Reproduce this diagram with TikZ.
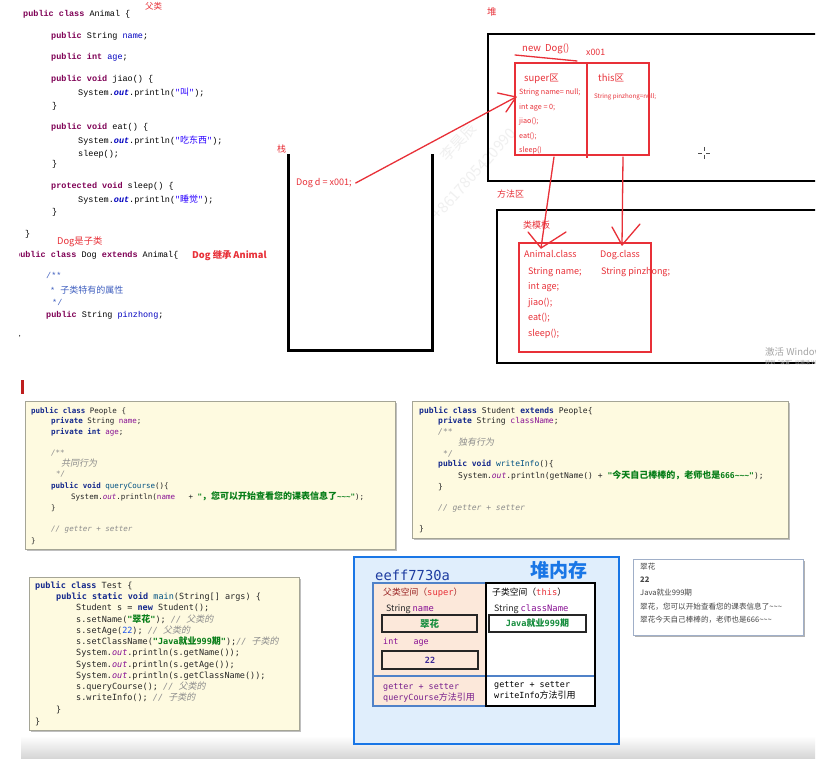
\documentclass[tikz,border=0pt]{standalone}
\usepackage{fontspec}
\setmainfont{Noto Sans CJK SC}
\newfontfamily\cjk{Noto Sans CJK SC}[AutoFakeSlant=0.2]
\newfontfamily\emono{Liberation Mono}
\newfontfamily\cmono{DejaVu Sans Mono}
\definecolor{hred}{RGB}{232,48,56}
\definecolor{ekw}{RGB}{127,0,85}
\definecolor{efd}{RGB}{0,0,192}
\definecolor{estr}{RGB}{42,0,255}
\definecolor{ecm}{RGB}{63,95,191}
\definecolor{ckw}{RGB}{20,40,140}
\definecolor{cfd}{RGB}{135,16,148}
\definecolor{ccm}{RGB}{140,140,140}
\definecolor{cst}{RGB}{6,125,23}
\definecolor{cnumc}{RGB}{23,80,235}
\definecolor{cmtc}{RGB}{0,80,130}
\definecolor{codebg}{RGB}{254,250,224}
\definecolor{codeborder}{RGB}{165,165,150}
\definecolor{hbg}{RGB}{224,238,252}
\definecolor{hblue}{RGB}{25,118,230}
\definecolor{hmid}{RGB}{80,130,200}
\definecolor{peach}{RGB}{252,232,218}
\definecolor{dblue}{RGB}{30,60,160}
\definecolor{gtext}{RGB}{70,70,70}
\definecolor{maroon}{RGB}{150,30,30}
\definecolor{wm}{RGB}{240,240,240}
\definecolor{stripgrey}{RGB}{214,214,214}
\definecolor{gmem}{RGB}{20,140,60}
\definecolor{pmem}{RGB}{120,30,140}
\definecolor{nmem}{RGB}{60,40,150}
\definecolor{barred}{RGB}{190,30,30}
\newcommand\zh[1]{{\cjk\fontsize{9}{10}\selectfont #1}}
\newcommand\ekw[1]{\textcolor{ekw}{\bfseries #1}}
\newcommand\efd[1]{\textcolor{efd}{#1}}
\newcommand\eout{\textcolor{efd}{\bfseries\itshape out}}
\newcommand\estr[1]{\textcolor{estr}{#1}}
\newcommand\ecm[1]{\textcolor{ecm}{#1}}
\newcommand\ckw[1]{\textcolor{ckw}{\bfseries #1}}
\newcommand\cfd[1]{\textcolor{cfd}{#1}}
\newcommand\ccm[1]{\textcolor{ccm}{\itshape #1}}
\newcommand\cst[1]{\textcolor{cst}{\bfseries #1}}
\newcommand\cnumx[1]{\textcolor{cnumc}{#1}}
\newcommand\cmt[1]{\textcolor{cmtc}{#1}}
\newcommand\cout{\textcolor{cfd}{\itshape out}}
\newcommand\tld{\textasciitilde}
\tikzset{
  tc/.style={anchor=west,inner sep=0pt,font=\emono\fontsize{8.5}{10}\selectfont,text height=5.5pt,text depth=1.5pt},
  bc/.style={anchor=west,inner sep=0pt,font=\cmono\fontsize{#1}{10}\selectfont,text=black!85,text height=6pt,text depth=1.5pt},
  hand/.style={anchor=west,inner sep=0pt,text=hred,font=\cjk\fontsize{9}{10}\selectfont,text height=6.5pt,text depth=1.5pt},
  tiny/.style={hand,font=\cjk\fontsize{7.2}{8}\selectfont,text height=5pt,text depth=1pt},
  redline/.style={draw=hred,line width=1.3pt,line cap=round},
  heapline/.style={draw=black,line width=2pt},
  codebox/.style={fill=codebg,draw=codeborder,line width=0.8pt},
  mem/.style={anchor=west,inner sep=0pt,font=\cjk\fontsize{8.8}{10}\selectfont,text height=6pt,text depth=1.5pt},
  memmono/.style={anchor=west,inner sep=0pt,font=\cmono\fontsize{8.4}{10}\selectfont,text height=6pt,text depth=1.5pt},
  cons/.style={anchor=west,inner sep=0pt,text=gtext,font=\cjk\fontsize{7.6}{9}\selectfont,text height=5.5pt,text depth=1.5pt},
}
\begin{document}
\begin{tikzpicture}[x=1pt,y=-1pt]
\useasboundingbox (0,0) rectangle (832,767);
\fill[white] (0,0) rectangle (832,767);
% bottom gradient strip
\shade[top color=white,bottom color=stripgrey] (21,736) rectangle (815,758);

% ---------------- top screenshot ----------------
\begin{scope}
\clip (19,0) rectangle (815,372);
% watermark
\node[rotate=48,text=wm,font=\cjk\fontsize{15}{15}\selectfont,inner sep=0pt] (wm1) at (474,174) {+8617805420990};
\node[rotate=48,text=wm,font=\cjk\fontsize{15}{15}\selectfont,inner sep=0pt] (wm2) at (458,142) {李昊辰};

% Animal code
\node[tc] (a1) at (23,15) {\ekw{public class} Animal \{};
\node[tc] (a2) at (51,37) {\ekw{public} String \efd{name};};
\node[tc] (a3) at (51,58) {\ekw{public int} \efd{age};};
\node[tc] (a4) at (51,80) {\ekw{public void} jiao() \{};
\node[tc] (a5) at (78,94) {System.\eout.println(\estr{"\zh{叫}"});};
\node[tc] (a6) at (52,107) {\}};
\node[tc] (a7) at (51,128) {\ekw{public void} eat() \{};
\node[tc] (a8) at (78,142) {System.\eout.println(\estr{"\zh{吃东西}"});};
\node[tc] (a9) at (78,155) {sleep();};
\node[tc] (a10) at (52,165) {\}};
\node[tc] (a11) at (51,187) {\ekw{protected void} sleep() \{};
\node[tc] (a12) at (78,201) {System.\eout.println(\estr{"\zh{睡觉}"});};
\node[tc] (a13) at (52,213) {\}};
\node[tc] (a14) at (25,235) {\}};
\node[tc] (a15) at (15,256) {\ekw{public class} Dog \ekw{extends} Animal\{};
\node[tc] (a16) at (46,277) {\ecm{/**}};
\node[tc] (a17) at (50,291) {\ecm{* \zh{子类特有的属性}}};
\node[tc] (a18) at (52,303) {\ecm{*/}};
\node[tc] (a19) at (46,315) {\ekw{public} String \efd{pinzhong};};
\node[tc] (a20) at (16,336) {\}};
\node[hand,font=\cjk\fontsize{8.5}{10}\selectfont] (fulei) at (145,7) {父类};
\node[hand,font=\cjk\fontsize{9.3}{10}\selectfont] (zilei) at (57,242) {Dog是子类};
\node[hand,font=\cjk\bfseries\fontsize{9.3}{10}\selectfont] (jicheng) at (192,256) {Dog 继承 Animal};

% stack
\node[hand] (zhan) at (277,150) {栈};
\draw[draw=black,line width=3pt] (288,154) -- (288,350) -- (432,350) -- (432,154);
\node[hand] (dogd) at (296,183) {Dog d = x001;};

% heap
\node[hand,font=\cjk\fontsize{9.5}{10}\selectfont] (dui) at (487,13) {堆};
\draw[heapline] (816,34) -- (488,34) -- (488,181) -- (816,181);
\node[hand,font=\cjk\fontsize{9.5}{10}\selectfont] (newdog) at (522,49) {new\ \ Dog()};
\draw[redline] (515,55) -- (577,61);
\node[hand,font=\cjk\fontsize{8.8}{10}\selectfont] (x001) at (586,53) {x001};
\draw[draw=hred,line width=1.5pt] (515,63) rectangle (649,155);
\draw[draw=hred,line width=1.5pt] (587,64) -- (587,158);
\node[hand,font=\cjk\fontsize{9.5}{10}\selectfont] (superq) at (524,79) {super区};
\node[hand,font=\cjk\fontsize{9.5}{10}\selectfont] (thisq) at (598,79) {this区};
\node[tiny] (h1) at (519,93) {String name= null;};
\node[tiny] (h2) at (519,108) {int age = 0;};
\node[tiny] (h3) at (519,122) {jiao();};
\node[tiny] (h4) at (519,137) {eat();};
\node[tiny] (h5) at (519,151) {sleep()};
\node[tiny,font=\cjk\fontsize{6.2}{7}\selectfont] (h6) at (594,97) {String pinzhong=null;};
% cursor
\draw[black!70,line width=0.7pt] (698,153) -- (702,153) (706,153) -- (710,153) (704,147) -- (704,151) (704,155) -- (704,159);

% stack -> heap arrow
\coordinate (t1) at (516,97);
\draw[redline] ([xshift=4pt]dogd.east) -- (t1);
\draw[redline] (t1) -- ++(-18.5,-4) (t1) -- ++(-10,15);

% method area
\node[hand] (ffq) at (497,195) {方法区};
\draw[heapline] (816,210) -- (497,210) -- (497,363) -- (816,363);
\node[hand] (lmb) at (523,226) {类模板};
\draw[draw=hred,line width=1.5pt] (519,243) rectangle (651,352);
\node[hand] (ac) at (524,255) {Animal.class};
\node[hand] (dc) at (600,255) {Dog.class};
\node[hand] (m1) at (528,272) {String name;};
\node[hand] (m2) at (528,287) {int age;};
\node[hand] (m3) at (528,303) {jiao();};
\node[hand] (m4) at (528,318) {eat();};
\node[hand] (m5) at (528,334) {sleep();};
\node[hand] (m6) at (601,272) {String pinzhong;};

% heap -> class arrows
\coordinate (s1) at (554,157);
\coordinate (t2) at (541,248);
\draw[redline] (s1) -- (t2);
\draw[redline] (t2) -- ++(-13,-16) (t2) -- ++(25,-16);
\coordinate (s2) at (623,157);
\coordinate (t3) at (622,245);
\draw[redline] (s2) -- (t3);
\draw[redline] (t3) -- ++(-10,-18) (t3) -- ++(18,-21);

% windows activation (cut by the screenshot edge)
\node[anchor=west,inner sep=0pt,text=black!35,font=\cjk\fontsize{9.5}{10}\selectfont] (act1) at (765,352) {激活 Windows};
\node[anchor=west,inner sep=0pt,text=black!35,font=\cjk\fontsize{5}{6}\selectfont] (act2) at (765,363) {转到“设置”以激活 Windows。};
\end{scope}

% red bar
\fill[barred] (21,380) rectangle (24,394);

% ---------------- People ----------------
\fill[black!25] (26.5,402.5) rectangle (396.5,550.5);
\draw[codebox] (25,401) rectangle (395,549);
\node[bc=7.5] (p1) at (31,411) {\ckw{public class} People \{};
\node[bc=7.5] (p2) at (51,421) {\ckw{private} String \cfd{name};};
\node[bc=7.5] (p3) at (51,432) {\ckw{private int} \cfd{age};};
\node[bc=7.5] (p4) at (51,453) {\ccm{/**}};
\node[bc=7.5] (p5) at (61,464) {\ccm{\zh{共同行为}}};
\node[bc=7.5] (p6) at (56,474) {\ccm{*/}};
\node[bc=7.5] (p7) at (51,486) {\ckw{public void} \cmt{queryCourse}()\{};
\node[bc=7.5] (p8) at (71,497) {System.\cout.println(\cfd{name}\ \ \ + \cst{"\zh{，您可以开始查看您的课表信息了}\tld\tld\tld"});};
\node[bc=7.5] (p9) at (51,508) {\}};
\node[bc=7.5] (p10) at (51,529) {\ccm{// getter + setter}};
\node[bc=7.5] (p11) at (31,541) {\}};

% ---------------- Student ----------------
\fill[black!25] (413.5,402.5) rectangle (789.5,539.5);
\draw[codebox] (412,401) rectangle (788,538);
\node[bc=8] (s1n) at (419,411) {\ckw{public class} Student \ckw{extends} People\{};
\node[bc=8] (s2n) at (438,421) {\ckw{private} String \cfd{className};};
\node[bc=8] (s3n) at (438,432) {\ccm{/**}};
\node[bc=8] (s4n) at (458,443) {\ccm{\zh{独有行为}}};
\node[bc=8] (s5n) at (443,454) {\ccm{*/}};
\node[bc=8] (s6n) at (438,464) {\ckw{public void} \cmt{writeInfo}()\{};
\node[bc=8] (s7n) at (458,476) {System.\cout.println(getName() + \cst{"\zh{今天自己棒棒的，老师也是}666\tld\tld\tld"});};
\node[bc=8] (s8n) at (438,487) {\}};
\node[bc=8] (s9n) at (438,508) {\ccm{// getter + setter}};
\node[bc=8] (s10n) at (419,529) {\}};

% ---------------- Test ----------------
\fill[black!25] (30.5,578.5) rectangle (300.5,731.5);
\draw[codebox] (29,577) rectangle (299,730);
\node[bc=8.5] (q1) at (35,586) {\ckw{public class} Test \{};
\node[bc=8.5] (q2) at (56,597) {\ckw{public static void} \cmt{main}(String[] args) \{};
\node[bc=8.5] (q3) at (76,608) {Student s = \ckw{new} Student();};
\node[bc=8.5] (q4) at (76,620) {s.setName(\cst{"\zh{翠花}"}); \ccm{// \zh{父类的}}};
\node[bc=8.5] (q5) at (76,631) {s.setAge(\cnumx{22}); \ccm{// \zh{父类的}}};
\node[bc=8.5] (q6) at (76,642) {s.setClassName(\cst{"Java\zh{就业}999\zh{期}"});\ccm{// \zh{子类的}}};
\node[bc=8.5] (q7) at (76,653) {System.\cout.println(s.getName());};
\node[bc=8.5] (q8) at (76,665) {System.\cout.println(s.getAge());};
\node[bc=8.5] (q9) at (76,676) {System.\cout.println(s.getClassName());};
\node[bc=8.5] (q10) at (76,687) {s.queryCourse(); \ccm{// \zh{父类的}}};
\node[bc=8.5] (q11) at (76,698) {s.writeInfo(); \ccm{// \zh{子类的}}};
\node[bc=8.5] (q12) at (56,710) {\}};
\node[bc=8.5] (q13) at (35,722) {\}};

% ---------------- heap memory ----------------
\draw[fill=hbg,draw=hblue,line width=2.5pt] (354,557) rectangle (619,744);
\node[anchor=west,inner sep=0pt,text=dblue,font=\cmono\fontsize{13.8}{14}\selectfont] (addr) at (375,575) {eeff7730a};
\node[anchor=west,inner sep=0pt,text=hblue,font=\cjk\bfseries\fontsize{19}{20}\selectfont] (duineicun) at (530,570) {堆内存};
\draw[fill=peach,draw=hmid,line width=1.5pt] (373,583) rectangle (486,706);
\fill[white] (486,583) rectangle (595,706);
\draw[draw=hmid,line width=1.5pt] (373,676) -- (595,676);
\draw[draw=black,line width=2.5pt] (486,583) rectangle (595,706);
\node[mem,text=maroon] (fspace) at (383,593) {父类空间（\textcolor{hred}{\cmono super}）};
\node[mem,text=black] (cspace) at (492,593) {子类空间（\textcolor{hred}{\cmono this}）};
\node[mem,text=black!85] (sname) at (386,609) {String \cfd{\cmono name}};
\draw[fill=peach,draw=black!85,line width=2pt] (382,615) rectangle (477,632);
\node[inner sep=0pt,text=gmem,font=\cjk\bfseries\fontsize{9.5}{10}\selectfont] (cuihua) at (429.5,623.5) {翠花};
\node[memmono,text=cfd] (iage) at (383,642) {int\ \ \ age};
\draw[fill=peach,draw=black!85,line width=2pt] (382,651) rectangle (478,669);
\node[inner sep=0pt,text=nmem,font=\cmono\bfseries\fontsize{8.5}{10}\selectfont] (v22) at (430,660) {22};
\node[memmono,text=pmem] (pg1) at (383,687) {getter + setter};
\node[memmono,text=pmem] (pg2) at (383,698) {queryCourse\zh{方法引用}};
\node[mem,text=black!85] (scn) at (494,609) {String \cfd{\cmono className}};
\draw[fill=white,draw=black!85,line width=2pt] (489,615) rectangle (586,632);
\node[inner sep=0pt,text=gmem,font=\cmono\bfseries\fontsize{8.6}{10}\selectfont] (java) at (537.5,623.5) {Java\zh{就业}999\zh{期}};
\node[memmono,text=black] (cg1) at (494,685) {getter + setter};
\node[memmono,text=black] (cg2) at (494,696) {writeInfo\zh{方法引用}};

% ---------------- console ----------------
\fill[black!30] (634.5,561) rectangle (804.5,637);
\draw[fill=white,draw={rgb,255:red,160;green,175;blue,200},line width=0.8pt] (633,559) rectangle (803,635);
\node[cons] (o1) at (640,567) {翠花};
\node[cons,font=\cjk\bfseries\fontsize{7.6}{9}\selectfont] (o2) at (640,580) {22};
\node[cons] (o3) at (640,593) {Java就业999期};
\node[cons] (o4) at (640,607) {翠花，您可以开始查看您的课表信息了\tld\tld\tld};
\node[cons] (o5) at (640,620) {翠花今天自己棒棒的，老师也是666\tld\tld\tld};
\end{tikzpicture}
\end{document}
